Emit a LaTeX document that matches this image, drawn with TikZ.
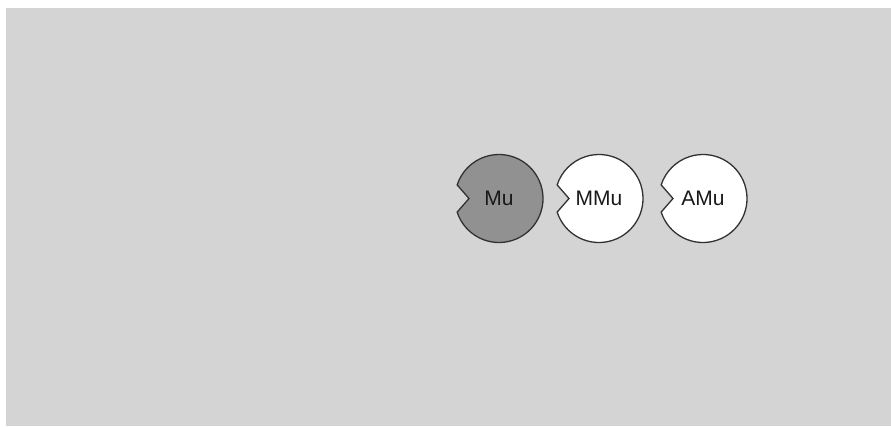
\documentclass[tikz,border=0pt]{standalone}
\usepackage{fontspec}
\setmainfont{Liberation Sans}
\usepackage{tikz}
\usetikzlibrary{calc,backgrounds}

\definecolor{paper}{RGB}{212,212,212}
\definecolor{discdark}{RGB}{145,145,145}
\definecolor{rimgray}{RGB}{50,50,50}
\definecolor{ink}{RGB}{25,25,25}

\begin{document}
\begin{tikzpicture}[
  x=1pt, y=1pt,
  disc/.style={
    circle,
    minimum size=88pt,
    inner sep=0pt,
    text=ink,
    font=\fontsize{21}{24}\selectfont,
  },
  rim/.style={draw=rimgray, line width=1.3pt, line join=miter},
]

\useasboundingbox (0,0) rectangle (891,-426);

% three notched discs
\node[disc] (mu) at (499,-198.5) {Mu};
\node[disc] (mmu) at (599,-198.5) {MMu};
\node[disc] (amu) at (703,-198.5) {AMu};

\begin{scope}[on background layer]
  \fill[white] (0,0) rectangle (891,-426);
  \fill[paper] (6,-8) rectangle (891,-426);
  \foreach \nm/\col in {mu/discdark, mmu/white, amu/white} {
    \draw[rim, fill=\col] ($(\nm.center)+(198:44)$)
      arc[start angle=198, end angle=522, radius=44pt]
      -- ($(\nm.center)+(-30,0)$) -- cycle;
  }
\end{scope}

\end{tikzpicture}
\end{document}
